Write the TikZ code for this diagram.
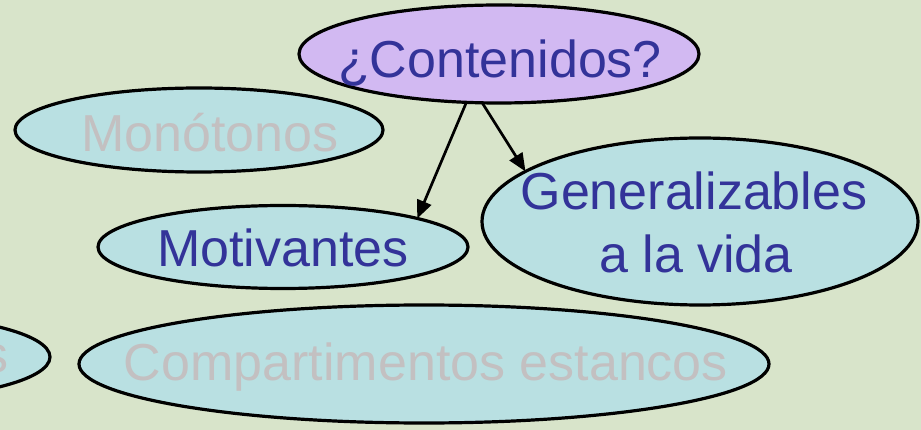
\documentclass[tikz,border=0pt]{standalone}
\usepackage{fontspec}
\setmainfont{Liberation Sans}
\usetikzlibrary{arrows.meta,shapes.geometric}
\definecolor{bgc}{HTML}{D8E4CA}
\definecolor{cyanfill}{HTML}{B9E0E2}
\definecolor{purplefill}{HTML}{D2B9F2}
\definecolor{bluetxt}{HTML}{333399}
\definecolor{fadetxt}{HTML}{C3C0C1}
\tikzset{
  ell/.style={ellipse, draw=black, line width=3.2pt, fill=cyanfill, inner sep=0pt, outer sep=0pt},
  txt/.style={anchor=base, inner sep=0pt, font=\fontsize{52}{62}\selectfont},
  active/.style={txt, text=bluetxt},
  faded/.style={txt, text=fadetxt},
  arr/.style={line width=2.7pt, -{Triangle[length=18pt,width=15pt]}}
}
\begin{document}
\begin{tikzpicture}[x=1pt,y=-1pt]
\clip (0,0) rectangle (921,430);
\fill[bgc] (0,0) rectangle (921,430);
% ellipses
\node[ell, fill=purplefill, minimum width=400pt, minimum height=98pt] (cont) at (499,54) {};
\node[ell, minimum width=368pt, minimum height=84pt] (mono) at (199,130) {};
\node[ell, minimum width=370pt, minimum height=83pt] (moti) at (283,247) {};
\node[ell, minimum width=436pt, minimum height=167pt] (gen) at (700,221.5) {};
\node[ell, minimum width=690pt, minimum height=118pt] (comp) at (424,364) {};
\node[ell, minimum width=340pt, minimum height=84pt] (left) at (-120,357) {};
% texts
\node[active] (tcont) at (500,78) {¿Contenidos?};
\node[faded] (tmono) at (210,152) {Monótonos};
\node[active] (tmoti) at (283,267) {Motivantes};
\node[active] (tgen1) at (694,210) {Generalizables};
\node[active] (tgen2) at (696,273) {a la vida};
\node[faded] (tcomp) at (426,380) {Compartimentos estancos};
\node[faded, anchor=base east] (tleft) at (9,372) {s};
% arrows
\draw[arr] (cont.236.5) -- (moti.12);
\draw[arr] (cont.251.8) -- (gen.164);
\end{tikzpicture}
\end{document}
